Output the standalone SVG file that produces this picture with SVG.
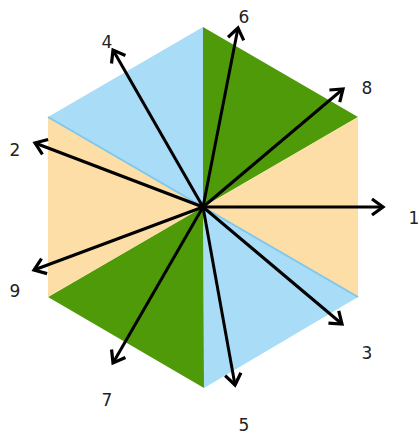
<svg xmlns="http://www.w3.org/2000/svg" width="420" height="436" viewBox="0 0 420 436">
<defs>
<style>
.lbl{font-family:"DejaVu Sans","Verdana",sans-serif;font-size:17px;fill:#222;text-anchor:middle}
.arr{stroke:#000;stroke-width:3;fill:none;marker-end:url(#head)}
</style>
<marker id="head" markerUnits="userSpaceOnUse" markerWidth="24" markerHeight="24" viewBox="-14 -12 16 24" refX="0" refY="0" orient="auto">
<path d="M-11,-8 L0,0 L-11,8" fill="none" stroke="#000" stroke-width="3.2" stroke-linejoin="miter"/>
</marker>
</defs>
<rect width="420" height="436" fill="#fff"/>
<g id="hexagon">
<polygon points="203,207 48,117 203,27" fill="#a9dcf6"/>
<polygon points="203,207 203,27 358,117" fill="#4e9a08"/>
<polygon points="203,207 358,117 358,297" fill="#fddea6"/>
<polygon points="203,207 358,297 204,388" fill="#a9dcf6"/>
<polygon points="203,207 204,388 48,297" fill="#4e9a08"/>
<polygon points="203,207 48,297 48,117" fill="#fddea6"/>
<line x1="48" y1="117" x2="203" y2="207" stroke="#7fc7ee" stroke-width="2"/>
<line x1="358" y1="297" x2="203" y2="207" stroke="#7fc7ee" stroke-width="2"/>
</g>
<g id="connectors">
<line class="arr" x1="203" y1="207" x2="383" y2="207"/>
<line class="arr" x1="203" y1="207" x2="35" y2="143"/>
<line class="arr" x1="203" y1="207" x2="342" y2="324"/>
<line class="arr" x1="203" y1="207" x2="113" y2="50"/>
<line class="arr" x1="203" y1="207" x2="235" y2="385"/>
<line class="arr" x1="203" y1="207" x2="238" y2="28"/>
<line class="arr" x1="203" y1="207" x2="113" y2="363"/>
<line class="arr" x1="203" y1="207" x2="343" y2="89"/>
<line class="arr" x1="203" y1="207" x2="34" y2="270"/>
</g>
<g id="labels">
<text class="lbl" x="414" y="224">1</text>
<text class="lbl" x="15" y="156">2</text>
<text class="lbl" x="367" y="359">3</text>
<text class="lbl" x="107" y="48">4</text>
<text class="lbl" x="244" y="431">5</text>
<text class="lbl" x="244" y="23">6</text>
<text class="lbl" x="107" y="406">7</text>
<text class="lbl" x="367" y="94">8</text>
<text class="lbl" x="15" y="297">9</text>
</g>
</svg>
